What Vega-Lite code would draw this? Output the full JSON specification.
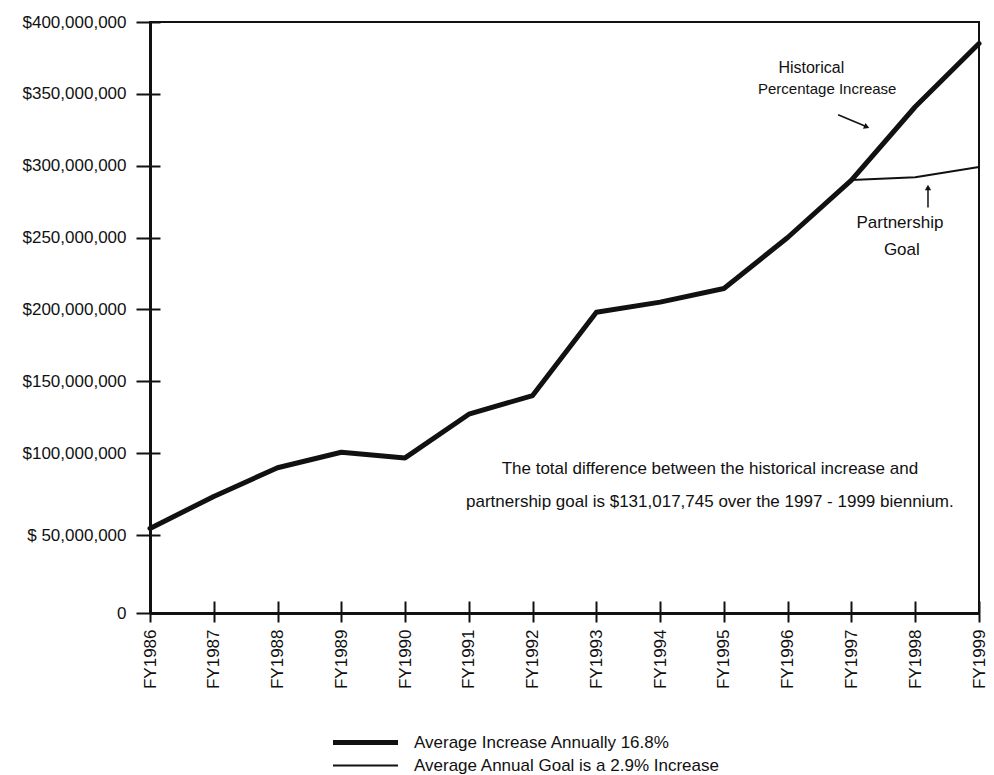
{
  "$schema": "https://vega.github.io/schema/vega-lite/v6.json",
  "autosize": "none",
  "padding": {"left": 150, "top": 22, "right": 15, "bottom": 162},
  "width": 829,
  "height": 591,
  "background": "white",
  "config": {
    "font": "Liberation Sans",
    "view": {"stroke": "#111", "strokeWidth": 2},
    "axis": {
      "domainColor": "#111",
      "domainWidth": 3,
      "tickColor": "#111",
      "tickWidth": 2,
      "labelColor": "#111",
      "labelFont": "Liberation Sans",
      "labelFontSize": 17,
      "title": null,
      "grid": true,
      "gridColor": "#111",
      "gridWidth": 2
    }
  },
  "data": {
    "values": [
      {"year": 1986, "amount": 54000000, "series": "Average Increase Annually 16.8%"},
      {"year": 1987, "amount": 73500000, "series": "Average Increase Annually 16.8%"},
      {"year": 1988, "amount": 91000000, "series": "Average Increase Annually 16.8%"},
      {"year": 1989, "amount": 100500000, "series": "Average Increase Annually 16.8%"},
      {"year": 1990, "amount": 97000000, "series": "Average Increase Annually 16.8%"},
      {"year": 1991, "amount": 127000000, "series": "Average Increase Annually 16.8%"},
      {"year": 1992, "amount": 140000000, "series": "Average Increase Annually 16.8%"},
      {"year": 1993, "amount": 198000000, "series": "Average Increase Annually 16.8%"},
      {"year": 1994, "amount": 205000000, "series": "Average Increase Annually 16.8%"},
      {"year": 1995, "amount": 214500000, "series": "Average Increase Annually 16.8%"},
      {"year": 1996, "amount": 250000000, "series": "Average Increase Annually 16.8%"},
      {"year": 1997, "amount": 290000000, "series": "Average Increase Annually 16.8%"},
      {"year": 1998, "amount": 341000000, "series": "Average Increase Annually 16.8%"},
      {"year": 1999, "amount": 385000000, "series": "Average Increase Annually 16.8%"},
      {"year": 1997, "amount": 290000000, "series": "Average Annual Goal is a 2.9% Increase"},
      {"year": 1998, "amount": 292000000, "series": "Average Annual Goal is a 2.9% Increase"},
      {"year": 1999, "amount": 299000000, "series": "Average Annual Goal is a 2.9% Increase"}
    ]
  },
  "layer": [
    {
      "mark": {"type": "line", "color": "#111", "strokeJoin": "round", "strokeCap": "round"},
      "encoding": {
        "x": {
          "field": "year",
          "type": "quantitative",
          "scale": {"domain": [1986, 1999], "nice": false, "zero": false},
          "axis": {
            "values": [1986, 1987, 1988, 1989, 1990, 1991, 1992, 1993, 1994, 1995, 1996, 1997, 1998, 1999],
            "labelExpr": "'FY' + datum.value",
            "labelAngle": -90,
            "labelAlign": "right",
            "labelBaseline": "middle",
            "tickSize": 9,
            "labelPadding": 7,
            "gridDash": [0, 579, 12, 3000]
          }
        },
        "y": {
          "field": "amount",
          "type": "quantitative",
          "scale": {
            "domain": [0, 50000000, 100000000, 400000000],
            "range": [591, 513, 431, 0]
          },
          "axis": {
            "values": [0, 50000000, 100000000, 150000000, 200000000, 250000000, 300000000, 350000000, 400000000],
            "labelExpr": "datum.value == 0 ? '0' : datum.value == 50000000 ? '$ 50,000,000' : '$' + format(datum.value, ',')",
            "tickSize": 14,
            "labelPadding": 10,
            "gridDash": [10, 3000]
          }
        },
        "detail": {"field": "series"},
        "strokeWidth": {
          "field": "series",
          "type": "nominal",
          "scale": {
            "domain": ["Average Increase Annually 16.8%", "Average Annual Goal is a 2.9% Increase"],
            "range": [5, 2]
          },
          "legend": {
            "title": null,
            "orient": "none",
            "legendX": 207,
            "legendY": 712,
            "symbolType": "M-6.5,0H6.5",
            "symbolSize": 100,
            "symbolStrokeColor": "#111",
            "labelFontSize": 17,
            "labelColor": "#111",
            "labelLimit": 500,
            "labelOffset": 40,
            "rowPadding": 3
          }
        }
      }
    },
    {
      "data": {"values": [{}]},
      "mark": {"type": "text", "fontSize": 16, "color": "#111", "align": "center", "baseline": "middle"},
      "encoding": {"x": {"datum": 1996.37}, "y": {"datum": 368100000}, "text": {"value": "Historical"}}
    },
    {
      "data": {"values": [{}]},
      "mark": {"type": "text", "fontSize": 15, "color": "#111", "align": "center", "baseline": "middle"},
      "encoding": {"x": {"datum": 1996.62}, "y": {"datum": 353500000}, "text": {"value": "Percentage Increase"}}
    },
    {
      "data": {"values": [{}]},
      "mark": {"type": "rule", "color": "#111", "strokeWidth": 1.5},
      "encoding": {
        "x": {"datum": 1996.79}, "x2": {"datum": 1997.22},
        "y": {"datum": 335400000}, "y2": {"datum": 327400000}
      }
    },
    {
      "data": {"values": [{}]},
      "mark": {"type": "point", "shape": "triangle-right", "filled": true, "color": "#111", "size": 40, "angle": 23, "opacity": 1},
      "encoding": {"x": {"datum": 1997.24}, "y": {"datum": 327000000}}
    },
    {
      "data": {"values": [{}]},
      "mark": {"type": "text", "fontSize": 17, "color": "#111", "align": "center", "baseline": "middle"},
      "encoding": {"x": {"datum": 1997.76}, "y": {"datum": 260400000}, "text": {"value": "Partnership"}}
    },
    {
      "data": {"values": [{}]},
      "mark": {"type": "text", "fontSize": 17, "color": "#111", "align": "center", "baseline": "middle"},
      "encoding": {"x": {"datum": 1997.79}, "y": {"datum": 241000000}, "text": {"value": "Goal"}}
    },
    {
      "data": {"values": [{}]},
      "mark": {"type": "rule", "color": "#111", "strokeWidth": 1.5},
      "encoding": {
        "x": {"datum": 1998.2},
        "y": {"datum": 270800000}, "y2": {"datum": 283500000}
      }
    },
    {
      "data": {"values": [{}]},
      "mark": {"type": "point", "shape": "triangle-up", "filled": true, "color": "#111", "size": 40, "opacity": 1},
      "encoding": {"x": {"datum": 1998.2}, "y": {"datum": 284800000}}
    },
    {
      "data": {"values": [{}]},
      "mark": {"type": "text", "fontSize": 17, "color": "#111", "align": "center", "baseline": "middle"},
      "encoding": {"x": {"datum": 1994.78}, "y": {"datum": 90100000}, "text": {"value": "The total difference between the historical increase and"}}
    },
    {
      "data": {"values": [{}]},
      "mark": {"type": "text", "fontSize": 17, "color": "#111", "align": "center", "baseline": "middle"},
      "encoding": {"x": {"datum": 1994.78}, "y": {"datum": 70400000}, "text": {"value": "partnership goal is $131,017,745 over the 1997 - 1999 biennium."}}
    }
  ]
}
